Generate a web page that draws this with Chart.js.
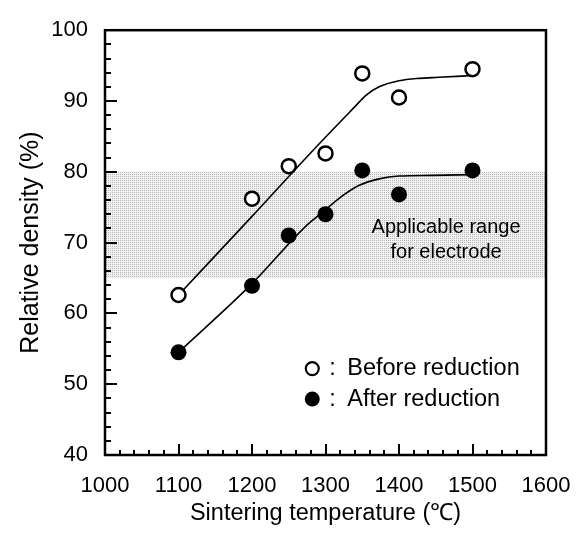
<!DOCTYPE html>
<html>
<head>
<meta charset="utf-8">
<script src="https://cdn.jsdelivr.net/npm/chart.js@4.4.0/dist/chart.umd.min.js"></script>
<style>
  html, body { margin: 0; padding: 0; background: #fff; }
  #wrap { width: 584px; height: 537px; }
</style>
</head>
<body>
<div id="wrap"><canvas id="chart" width="584" height="537"></canvas></div>
<script>
// measured points
const temps = [1100, 1200, 1250, 1300, 1350, 1400, 1500];
const beforeReduction = [62.6, 76.2, 80.8, 82.6, 93.9, 90.5, 94.5];
const afterReduction = [54.5, 63.9, 71.0, 74.0, 80.2, 76.8, 80.2];

// fitted curves
const beforeFitTemps = [1100, 1200, 1280, 1340, 1355, 1373, 1400, 1427, 1454, 1500];
const beforeFit = [62.6, 73.7, 82.7, 89.2, 90.8, 92.0, 92.85, 93.2, 93.35, 93.6];
const afterFitTemps = [1100, 1200, 1273, 1296, 1323, 1346, 1373, 1400, 1445, 1500];
const afterFit = [54.5, 64.2, 72.3, 74.3, 76.6, 78.1, 79.0, 79.4, 79.5, 79.6];

// shaded band "applicable range for electrode"
const bandTemps = [1000, 1600];
const bandRange = [65, 80];

// axes
const xRange = [1000, 1600], xStep = 100, xMinor = 20;
const yRange = [40, 100], yStep = 10, yMinor = 2;

const FONT = "'Liberation Sans', Arial, Helvetica, sans-serif";

const toXY = (xs, ys) => xs.map((t, i) => ({ x: t, y: ys[i] }));

// stipple pattern for the band
function stipple() {
    const c = document.createElement('canvas');
    c.width = 2; c.height = 2;
    const g = c.getContext('2d');
    g.fillStyle = '#f2f2f2';
    g.fillRect(0, 0, 2, 2);
    g.fillStyle = '#b4b4b4';
    g.fillRect(0, 0, 1, 1);
    return g.createPattern(c, 'repeat');
}

// frame + inward ticks
const frameTicks = {
    id: 'frameTicks',
    afterDatasetsDraw(chart) {
        const { ctx, chartArea: a, scales: { x, y } } = chart;
        ctx.save();
        ctx.strokeStyle = '#000';
        ctx.lineWidth = 2;
        ctx.beginPath();
        for (let v = xRange[0] + xMinor; v < xRange[1]; v += xMinor) {
            const px = Math.round(x.getPixelForValue(v));
            const len = (v - xRange[0]) % xStep === 0 ? 11 : 5;
            ctx.moveTo(px, a.bottom);
            ctx.lineTo(px, a.bottom - len);
        }
        for (let v = yRange[0] + yMinor; v < yRange[1]; v += yMinor) {
            const py = Math.round(y.getPixelForValue(v));
            const len = (v - yRange[0]) % yStep === 0 ? 12 : 6;
            ctx.moveTo(a.left, py);
            ctx.lineTo(a.left + len, py);
        }
        ctx.stroke();
        ctx.lineWidth = 2.5;
        ctx.strokeRect(a.left, a.top, a.width, a.height);
        ctx.restore();
    }
};

// band caption and legend
const notes = {
    id: 'notes',
    afterDraw(chart) {
        const { ctx, scales: { x, y } } = chart;
        ctx.save();
        ctx.fillStyle = '#000';
        ctx.textBaseline = 'middle';
        ctx.textAlign = 'center';
        ctx.font = '20px ' + FONT;
        ctx.fillText('Applicable range', x.getPixelForValue(1464), y.getPixelForValue(72.1));
        ctx.fillText('for electrode', x.getPixelForValue(1464), y.getPixelForValue(68.6));

        const mx = x.getPixelForValue(1282);
        const rows = [
            { yv: 52.2, text: 'Before reduction', open: true },
            { yv: 47.9, text: 'After reduction', open: false }
        ];
        ctx.font = '23.5px ' + FONT;
        ctx.textAlign = 'left';
        rows.forEach(r => {
            const py = y.getPixelForValue(r.yv);
            ctx.beginPath();
            ctx.arc(mx, py, r.open ? 6.5 : 7.5, 0, Math.PI * 2);
            if (r.open) {
                ctx.lineWidth = 2.2;
                ctx.strokeStyle = '#000';
                ctx.stroke();
            } else {
                ctx.fill();
            }
            ctx.fillText(':', mx + 17, py);
            ctx.fillText(r.text, mx + 35, py);
        });
        ctx.restore();
    }
};

new Chart(document.getElementById('chart'), {
    type: 'scatter',
    data: {
        datasets: [
            {
                label: 'Before reduction',
                data: toXY(temps, beforeReduction),
                pointRadius: 7,
                pointBorderWidth: 2.5,
                pointBackgroundColor: '#fff',
                pointBorderColor: '#000',
                showLine: false,
                order: 0
            },
            {
                label: 'After reduction',
                data: toXY(temps, afterReduction),
                pointRadius: 8,
                pointBorderWidth: 0,
                pointBackgroundColor: '#000',
                pointBorderColor: '#000',
                showLine: false,
                order: 1
            },
            {
                label: 'fit before',
                data: toXY(beforeFitTemps, beforeFit),
                showLine: true,
                pointRadius: 0,
                borderColor: '#000',
                borderWidth: 1.6,
                cubicInterpolationMode: 'monotone',
                order: 2
            },
            {
                label: 'fit after',
                data: toXY(afterFitTemps, afterFit),
                showLine: true,
                pointRadius: 0,
                borderColor: '#000',
                borderWidth: 1.6,
                cubicInterpolationMode: 'monotone',
                order: 3
            },
            {
                label: 'band',
                data: bandTemps.map(t => ({ x: t, y: bandRange[1] })),
                showLine: true,
                pointRadius: 0,
                borderWidth: 0,
                borderColor: 'rgba(0,0,0,0)',
                backgroundColor: stipple(),
                fill: { value: bandRange[0] },
                order: 4
            }
        ]
    },
    options: {
        responsive: false,
        animation: false,
        layout: { padding: { top: 18, right: 38, bottom: 0, left: 0 } },
        plugins: { legend: { display: false }, tooltip: { enabled: false } },
        scales: {
            x: {
                type: 'linear',
                min: xRange[0], max: xRange[1],
                // ticks drawn by frameTicks; tickLength only spaces the labels
                grid: { display: false, drawTicks: true, tickLength: 9 },
                border: { display: false },
                ticks: {
                    stepSize: xStep, color: '#000', padding: 9,
                    font: { family: FONT, size: 22 },
                    callback: v => String(v)
                },
                title: {
                    display: true, text: 'Sintering temperature (℃)', color: '#000',
                    font: { family: FONT, size: 23.5 }, padding: { top: 0, bottom: 9 }
                },
                afterFit: s => { s.height = 82; }
            },
            y: {
                min: yRange[0], max: yRange[1],
                grid: { display: false, drawTicks: false },
                border: { display: false },
                ticks: { stepSize: yStep, color: '#000', padding: 17, font: { family: FONT, size: 22 } },
                title: {
                    display: true, text: 'Relative density (%)', color: '#000',
                    font: { family: FONT, size: 25 }, padding: { top: 16, bottom: 0 }
                },
                afterFit: s => { s.width = 105; }
            }
        }
    },
    plugins: [frameTicks, notes]
});
</script>
</body>
</html>
